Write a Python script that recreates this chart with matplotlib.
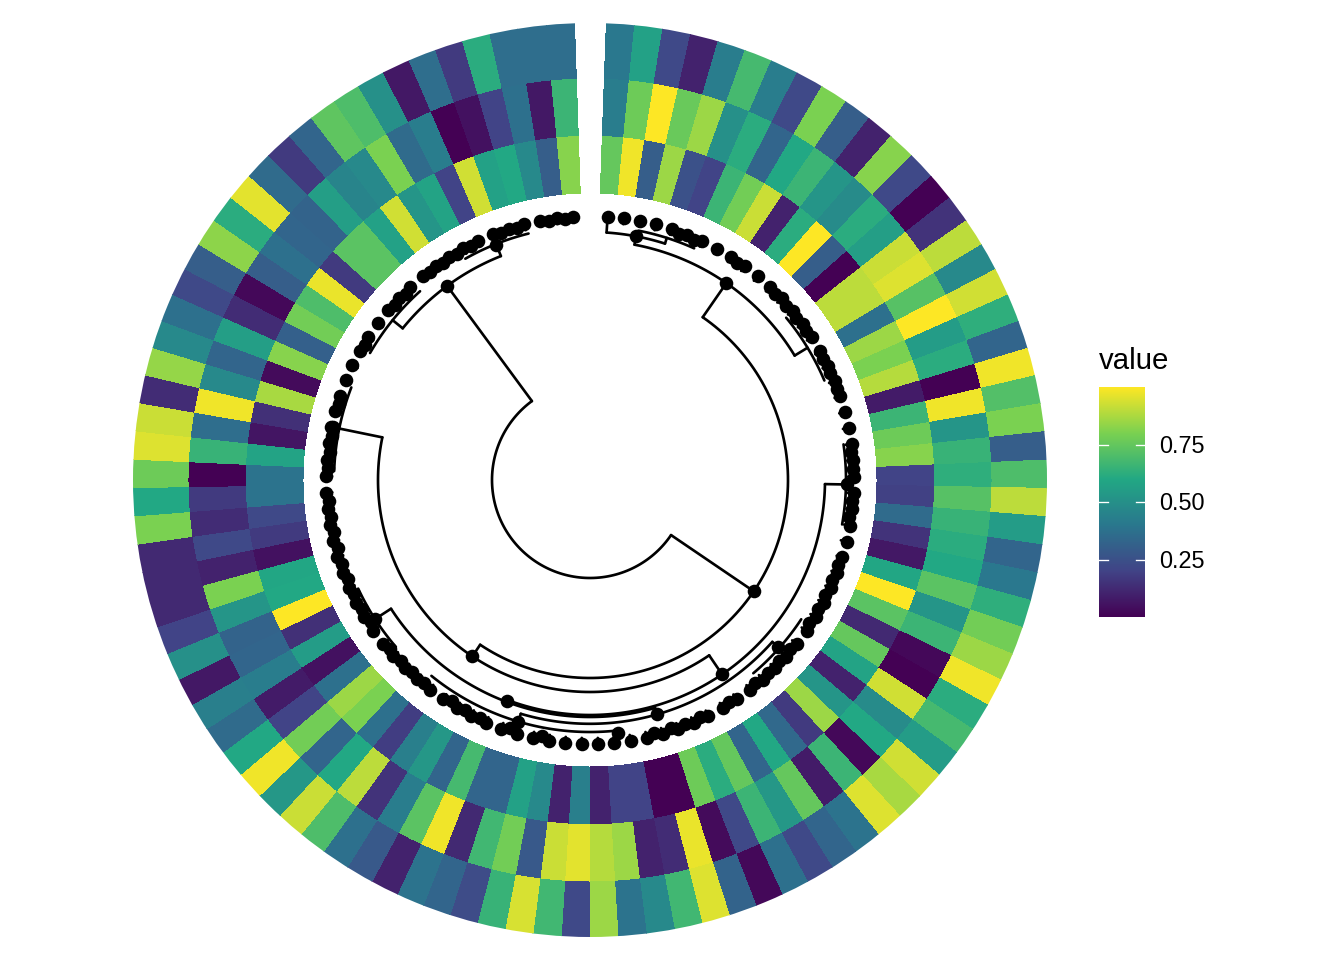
import numpy as np
import matplotlib
matplotlib.use("Agg")
import matplotlib.pyplot as plt
from matplotlib.colors import LinearSegmentedColormap

plt.rcParams['font.family'] = ['Liberation Sans', 'DejaVu Sans']

inner = [.75,.98,.30,.85,.25,.20,.66,.78,.92,.10,
         .62,1.0,.30,.00,.90,.90,.37,.85,.80,.89,
         .08,.66,.77,.82,.20,.19,.35,.15,.07,.59,
         1.0,.73,.12,.75,.58,.10,.52,.85,.17,.34,
         .60,.33,.75,.62,.77,.00,.00,.20,.20,.10,
         .43,.10,.47,.57,.33,.33,.68,.33,.53,.43,
         .18,.37,.80,.85,.37,.05,.55,.14,1.0,.60,
         .59,.05,.17,.22,.38,.38,.58,.06,.14,.87,
         .03,.82,.31,.78,.70,.97,.17,.73,.73,.57,
         .93,.52,.58,.20,.93,.57,.60,.47,.30,.82]
middle = [.42,.77,1.0,.76,.85,.50,.62,.33,.60,.66,
          .52,.48,.62,.56,.92,.95,.72,1.0,.55,.62,
          .00,.98,.52,.65,.63,.72,.65,.62,.60,.73,
          .52,.66,.02,.00,.93,.48,.60,.02,.66,.08,
          .75,.53,.66,.22,.03,.97,.13,.10,.85,.89,
          .96,.92,.28,.78,.67,.12,.98,.73,.42,.15,
          .90,.60,.33,.78,.20,.08,.42,.33,.32,.52,
          .80,.10,.22,.13,.17,.00,.65,.36,.98,.47,
          .33,.56,.13,.02,.30,.37,.33,.32,.56,.45,
          .47,.80,.35,.42,.00,.05,.20,.37,.07,.66]
outer = [.40,.57,.22,.10,.42,.68,.42,.22,.80,.30,
         .10,.82,.22,.00,.15,.90,.47,.93,.63,.33,
         .98,.71,.80,.30,.70,.90,.55,.33,.40,.63,
         .78,.85,.98,.62,.68,.55,.93,.87,.95,.38,
         .33,.22,.37,.02,.32,.95,.67,.47,.38,.85,
         .22,.67,.94,.65,.23,.33,.38,.10,.28,.37,
         .70,.92,.53,.98,.60,.35,.43,.07,.50,.20,
         .12,.12,.12,.80,.60,.77,.95,.92,.13,.84,
         .47,.37,.22,.30,.83,.62,.96,.35,.17,.33,
         .74,.70,.50,.07,.36,.17,.62,.36,.36,.36]
ring_edges = [287, 344.7, 402, 457]
ring_values = [inner, middle, outer]
viridis_stops = ['#440154', '#414487', '#2A788E', '#22A884', '#7AD151', '#FDE725']

start_deg = 2.05
cell_deg = 3.56
tip_r = [264] * 100
tip_base_r = [248] + [258] * 99

# arcs of the tree: radius, from angle, to angle, radius of the parent arc
arc_r     = [98,  241, 198, 239.5, 212, 235, 237, 243.8, 252, 253, 256, 256, 256, 248, 254, 254, 254, 254.6]
arc_start = [124.2, 309, 34.7, 10.7, 145.8, 91, 164.1, 131.6, 174, 123.4, 229.3, 272, 82, 3.83, 11, 330.6, 300, 50.4]
arc_end   = [323.65, 338.3, 213.7, 58.7, 281.6, 200.6, 237.1, 196.5, 219, 139.8, 244.9, 291.2, 100, 17.6, 24.2, 346, 318, 67]
arc_parent = [98, 98, 98, 198, 198, 212, 235, 237, 243.8, 243.8, 237, 212, 235, 239.5, 248, 241, 241, 239.5]

# dots of the inner nodes
node_theta = [323.65, 124.2, 34.7, 213.7, 145.8, 200.6, 164.1, 196.5, 131.6, 237.1, 281.6, 91, 338.3, 10.7,
              19.85, 23.4, 34.1, 44.8, 48.3, 51.9, 55.4, 62.6, 66.1, 69.7, 83.9, 87.5, 94.6, 98.2,
              108.9, 112.4, 116, 119.5, 123.1, 130.2, 133.8, 137.3, 140.9, 148, 155.1, 158.7, 162,
              165.8, 173.7, 190.7, 197.9, 204.9, 208.5, 212, 219.2, 222.8, 226.3, 229.9, 237, 240.6,
              244.1, 247.7, 251.2, 254.8, 258.4, 261.9, 265.5, 272.6, 276.2, 279.7, 286.8, 301, 311.8,
              315.3, 322.4, 326, 329.6, 333.1, 340.2, 343.8, 350.9, 354.5]
node_r = [241, 198, 239.5, 212, 235, 236.5, 243.8, 252, 252, 256, 262, 257, 253, 248,
          262, 261, 262, 262, 262, 262, 262, 263, 263, 263, 262, 263, 263, 262,
          262, 262, 262, 262, 261, 262, 262, 262, 262, 262, 261, 262, 261,
          261, 255, 261, 261, 262, 262, 261, 262, 262, 262, 262, 261, 262,
          262, 262, 262, 261, 261, 262, 262, 262, 262, 262, 262, 262, 262,
          262, 262, 262, 262, 262, 262, 262, 262, 262]

legend_ticks = [0.25, 0.50, 0.75]
legend_title = "value"

W, H = 1344, 960
fig = plt.figure(figsize=(7, 5), dpi=192)
cx, cy, R = 590, 480, 457
ax = fig.add_axes([(cx - R) / W, 1 - (cy + R) / H, 2 * R / W, 2 * R / H], projection='polar')
ax.set_theta_zero_location('N')
ax.set_theta_direction(-1)
ax.set_ylim(0, R)
ax.set_axis_off()

cmap = LinearSegmentedColormap.from_list('viridis_six', viridis_stops, N=512)
n = len(inner)
centers = np.radians(start_deg + (np.arange(n) + 0.5) * cell_deg)
for k, vals in enumerate(ring_values):
    ax.bar(centers, ring_edges[k + 1] - ring_edges[k], width=np.radians(cell_deg),
           bottom=ring_edges[k], color=cmap(np.asarray(vals)), linewidth=0,
           antialiased=False, align='center')

line = dict(color='black', lw=1.0, solid_capstyle='round', solid_joinstyle='round')
for r, a, b, p in zip(arc_r, arc_start, arc_end, arc_parent):
    th = np.radians(np.linspace(a, b, 120))
    ax.plot(th, np.full_like(th, r), **line)
    if p != r:
        mid = np.radians((a + b) / 2)
        ax.plot([mid, mid], [p, r], **line)

for th, r0, r1 in zip(centers, tip_base_r, tip_r):
    ax.plot([th, th], [r0, r1], **line)

ax.scatter(centers, tip_r, s=26, color='black', linewidths=0, zorder=5)
ax.scatter(np.radians(node_theta), node_r, s=26, color='black', linewidths=0, zorder=5)

# legend
lx0, lx1, ly0, ly1 = 1099, 1145, 387, 617
lax = fig.add_axes([lx0 / W, 1 - ly1 / H, (lx1 - lx0) / W, (ly1 - ly0) / H])
lax.imshow(np.linspace(1, 0, 256)[:, None], cmap=cmap, vmin=0, vmax=1, aspect='auto', extent=[0, 1, 0, 1])
lax.set_xlim(0, 1)
lax.set_ylim(0, 1)
lax.set_axis_off()
for t in legend_ticks:
    lax.plot([0, 0.2], [t, t], color='white', lw=0.5)
    lax.plot([0.8, 1], [t, t], color='white', lw=0.5)
    lax.text(1.31, t + 0.003, f"{t:.2f}", ha='left', va='center_baseline', fontsize=8.8, color='black')
fig.text(1099 / W, 1 - 369 / H, legend_title, fontsize=11, color='black', ha='left', va='baseline')

fig.savefig('out.png', dpi=192, facecolor='white')
